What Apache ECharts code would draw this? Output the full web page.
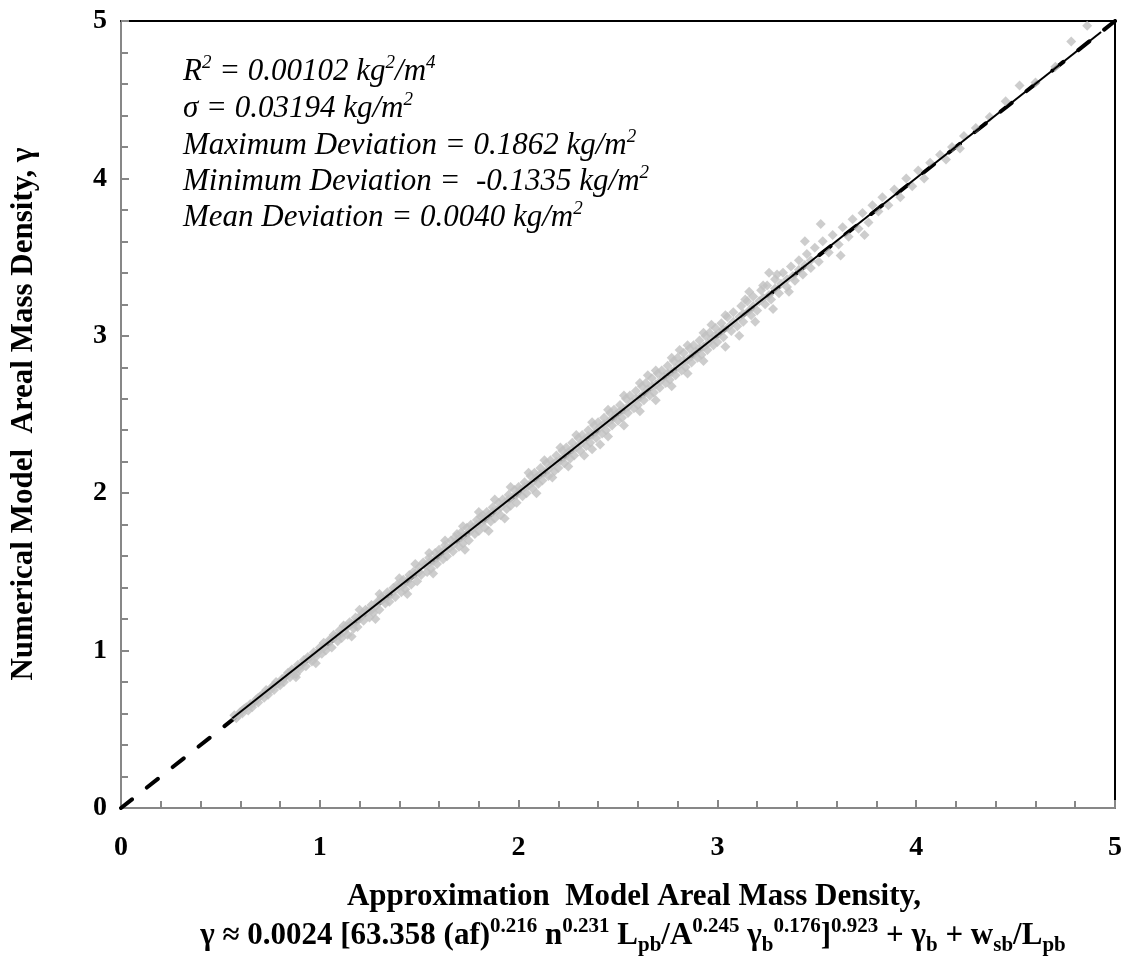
<!DOCTYPE html>
<html>
<head>
<meta charset="utf-8">
<script src="https://cdn.jsdelivr.net/npm/echarts@6/dist/echarts.min.js"></script>
<style>
    html, body { margin: 0; padding: 0; background: #fff; }
    #chart { width: 1130px; height: 957px; }
</style>
</head>
<body>
<div id="chart"></div>
<script>
// approximation model value (x) vs numerical model value (y)
const points = [
    [0.57,0.59],[0.58,0.57],[0.60,0.61],[0.61,0.60],[0.62,0.63],[0.64,0.62],[0.65,0.66],[0.66,0.64],[0.68,0.69],[0.69,0.67],
    [0.70,0.71],[0.72,0.70],[0.73,0.75],[0.74,0.72],[0.76,0.77],[0.77,0.75],[0.78,0.80],[0.80,0.78],[0.81,0.82],[0.82,0.80],
    [0.84,0.86],[0.85,0.83],[0.86,0.88],[0.88,0.85],[0.89,0.91],[0.90,0.88],[0.92,0.94],[0.93,0.90],[0.94,0.96],[0.96,0.93],
    [0.97,0.99],[0.98,0.96],[1.00,1.02],[1.01,0.98],[0.88,0.83],[0.98,0.92],
    [0.59,0.59],[0.63,0.64],[0.67,0.67],[0.71,0.72],[0.75,0.75],[0.79,0.79],[0.83,0.84],[0.87,0.87],[0.91,0.91],[0.95,0.95],[0.99,0.99],
    [0.61,0.62],[0.65,0.65],[0.69,0.70],[0.73,0.73],[0.77,0.78],[0.81,0.81],[0.85,0.86],[0.89,0.89],[0.93,0.94],[0.97,0.97],
    [1.02,1.05],[1.03,1.00],[1.05,1.07],[1.06,1.02],[1.07,1.10],[1.09,1.06],[1.10,1.13],[1.11,1.08],[1.13,1.15],[1.14,1.10],
    [1.15,1.18],[1.17,1.14],[1.18,1.21],[1.19,1.15],[1.21,1.23],[1.22,1.19],[1.23,1.26],[1.25,1.21],[1.26,1.29],[1.27,1.24],
    [1.29,1.31],[1.30,1.26],[1.31,1.34],[1.33,1.30],[1.34,1.37],[1.35,1.31],[1.37,1.40],[1.38,1.34],[1.39,1.42],[1.41,1.37],
    [1.42,1.45],[1.43,1.39],[1.45,1.48],[1.46,1.42],[1.47,1.50],[1.49,1.44],[1.50,1.53],[1.16,1.09],[1.28,1.20],[1.44,1.36],[1.12,1.16],
    [1.04,1.04],[1.08,1.09],[1.12,1.12],[1.16,1.17],[1.20,1.20],[1.24,1.25],[1.28,1.28],[1.32,1.33],[1.36,1.36],[1.40,1.41],
    [1.44,1.44],[1.48,1.49],[1.20,1.26],[1.30,1.36],[1.40,1.46],[1.48,1.55],
    [1.02,1.02],[1.06,1.07],[1.10,1.10],[1.14,1.15],[1.18,1.18],[1.22,1.23],[1.26,1.26],[1.30,1.31],[1.34,1.34],[1.38,1.39],
    [1.42,1.42],[1.46,1.47],[1.50,1.50],
    [1.51,1.48],[1.52,1.56],[1.54,1.50],[1.55,1.59],[1.56,1.52],[1.58,1.62],[1.59,1.55],[1.60,1.64],[1.62,1.58],[1.63,1.67],
    [1.64,1.60],[1.66,1.70],[1.67,1.63],[1.68,1.72],[1.70,1.66],[1.71,1.75],[1.72,1.68],[1.74,1.78],[1.75,1.70],[1.76,1.80],
    [1.78,1.74],[1.79,1.83],[1.80,1.76],[1.82,1.86],[1.83,1.78],[1.84,1.88],[1.86,1.82],[1.87,1.91],[1.88,1.84],[1.90,1.94],
    [1.91,1.86],[1.92,1.96],[1.94,1.90],[1.95,1.99],[1.96,1.92],[1.98,2.02],[1.99,1.94],
    [1.57,1.49],[1.73,1.64],[1.85,1.76],[1.93,1.84],[1.69,1.74],[1.81,1.85],
    [1.53,1.54],[1.57,1.57],[1.61,1.62],[1.65,1.65],[1.69,1.70],[1.73,1.73],[1.77,1.78],[1.81,1.81],[1.85,1.86],[1.89,1.89],
    [1.93,1.94],[1.97,1.97],[1.55,1.62],[1.63,1.70],[1.72,1.79],[1.80,1.88],[1.88,1.96],[1.96,2.04],
    [1.55,1.56],[1.59,1.59],[1.63,1.64],[1.67,1.67],[1.71,1.72],[1.75,1.75],[1.79,1.80],[1.83,1.83],[1.87,1.88],[1.91,1.91],
    [1.95,1.96],[1.99,1.99],
    [2.00,2.04],[2.02,1.98],[2.03,2.07],[2.04,2.00],[2.06,2.11],[2.07,2.03],[2.08,2.13],[2.10,2.06],[2.11,2.16],[2.12,2.08],
    [2.14,2.19],[2.15,2.11],[2.16,2.21],[2.18,2.14],[2.19,2.24],[2.20,2.16],[2.22,2.27],[2.23,2.19],[2.24,2.29],[2.26,2.22],
    [2.27,2.32],[2.28,2.24],[2.30,2.35],[2.31,2.27],[2.32,2.37],[2.34,2.30],[2.35,2.40],[2.36,2.32],[2.38,2.43],[2.39,2.35],
    [2.40,2.45],[2.42,2.38],[2.43,2.48],[2.44,2.40],[2.46,2.51],[2.47,2.43],[2.48,2.53],[2.50,2.46],
    [2.09,2.00],[2.17,2.10],[2.25,2.17],[2.33,2.24],[2.41,2.31],[2.37,2.28],[2.45,2.36],
    [2.01,2.02],[2.05,2.05],[2.09,2.10],[2.13,2.13],[2.17,2.18],[2.21,2.21],[2.25,2.26],[2.29,2.29],[2.33,2.34],[2.37,2.37],
    [2.41,2.42],[2.45,2.45],[2.49,2.50],[2.05,2.13],[2.13,2.21],[2.21,2.29],[2.29,2.37],[2.37,2.45],[2.45,2.53],
    [2.03,2.04],[2.07,2.07],[2.11,2.12],[2.15,2.15],[2.19,2.20],[2.23,2.23],[2.27,2.28],[2.31,2.31],[2.35,2.36],[2.39,2.39],
    [2.43,2.44],[2.47,2.47],
    [2.51,2.56],[2.52,2.48],[2.54,2.60],[2.55,2.51],[2.56,2.62],[2.58,2.54],[2.59,2.65],[2.60,2.56],[2.62,2.68],[2.63,2.59],
    [2.64,2.70],[2.66,2.62],[2.67,2.73],[2.68,2.64],[2.70,2.76],[2.71,2.67],[2.72,2.78],[2.74,2.70],[2.75,2.81],[2.76,2.72],
    [2.78,2.84],[2.79,2.75],[2.80,2.86],[2.82,2.78],[2.83,2.89],[2.84,2.80],[2.86,2.92],[2.87,2.83],[2.88,2.94],[2.90,2.86],
    [2.91,2.97],[2.92,2.88],[2.94,3.00],[2.95,2.91],[2.96,3.02],[2.98,2.94],[2.99,3.05],
    [2.53,2.43],[2.61,2.52],[2.69,2.59],[2.77,2.68],[2.85,2.76],[2.93,2.84],[2.65,2.75],[2.81,2.91],
    [2.53,2.53],[2.57,2.58],[2.61,2.61],[2.65,2.66],[2.69,2.69],[2.73,2.74],[2.77,2.77],[2.81,2.82],[2.85,2.85],[2.89,2.90],
    [2.93,2.93],[2.97,2.98],[2.53,2.62],[2.61,2.70],[2.69,2.78],[2.77,2.86],[2.85,2.94],[2.93,3.02],[2.97,3.07],
    [2.51,2.52],[2.55,2.55],[2.59,2.60],[2.63,2.63],[2.67,2.68],[2.71,2.71],[2.75,2.76],[2.79,2.79],[2.83,2.84],[2.87,2.87],
    [2.91,2.92],[2.95,2.95],[2.99,3.00],
    [3.00,2.96],[3.02,3.08],[3.03,2.99],[3.05,3.12],[3.07,3.03],[3.08,3.15],[3.10,3.06],[3.12,3.19],[3.13,3.09],[3.15,3.22],
    [3.17,3.13],[3.18,3.25],[3.20,3.16],[3.22,3.29],[3.24,3.20],[3.25,3.32],[3.27,3.23],[3.29,3.36],[3.31,3.27],[3.33,3.40],
    [3.35,3.31],[3.37,3.44],[3.39,3.35],[3.41,3.48],[3.43,3.39],[3.45,3.52],[3.47,3.43],[3.49,3.56],
    [3.04,2.93],[3.11,3.00],[3.19,3.09],[3.28,3.17],[3.36,3.28],[3.16,3.28],[3.26,3.40],
    [3.01,3.02],[3.06,3.06],[3.11,3.12],[3.16,3.16],[3.21,3.22],[3.26,3.26],[3.32,3.33],[3.38,3.38],[3.44,3.45],
    [3.04,3.13],[3.14,3.23],[3.23,3.32],[3.30,3.39],
    [3.03,3.04],[3.08,3.09],[3.13,3.14],[3.18,3.19],[3.23,3.24],[3.29,3.30],[3.35,3.36],[3.41,3.42],[3.47,3.48],
    [3.51,3.47],[3.53,3.60],[3.56,3.53],[3.58,3.64],[3.61,3.58],[3.63,3.69],[3.66,3.63],[3.68,3.74],[3.71,3.68],[3.73,3.78],
    [3.76,3.72],[3.78,3.83],[3.81,3.79],[3.83,3.88],[3.86,3.83],[3.89,3.93],[3.92,3.88],[3.95,4.00],[3.98,3.95],[4.01,4.05],
    [4.04,4.00],[4.07,4.10],[3.52,3.71],[3.62,3.51],[3.74,3.64],[3.44,3.60],
    [4.12,4.15],[4.18,4.20],[4.24,4.27],[4.30,4.32],[4.37,4.39],[4.45,4.49],[4.52,4.59],[4.60,4.61],[4.70,4.71],[4.78,4.87],
    [4.86,4.97],[4.15,4.12],[4.22,4.19]
];
// fitted line over the data range
const fitLine = [[0.56, 0.57], [4.93, 4.93]];
// y = x reference line
const parityLine = [[0, 0], [5, 5]];
const axisMin = 0, axisMax = 5, axisStep = 1;

const serif = "'Liberation Serif', 'Times New Roman', serif";

const chart = echarts.init(document.getElementById('chart'));

const italicRich = {
    t: { fontFamily: serif, fontStyle: 'italic', fontSize: 31, lineHeight: 37, color: '#000' },
    sup: { fontFamily: serif, fontStyle: 'italic', fontSize: 19, lineHeight: 20, verticalAlign: 'top', color: '#000' }
};
const boldRich = {
    t: { fontFamily: serif, fontWeight: 'bold', fontSize: 31, lineHeight: 40, color: '#000' },
    sup: { fontFamily: serif, fontWeight: 'bold', fontSize: 21, lineHeight: 22, verticalAlign: 'top', color: '#000' },
    sub: { fontFamily: serif, fontWeight: 'bold', fontSize: 21, lineHeight: 22, verticalAlign: 'bottom', color: '#000' }
};

function noteText(y, text) {
    return {
        type: 'text', x: 183, y: y,
        style: { text: text, rich: italicRich, align: 'left', verticalAlign: 'middle' }
    };
}

const grayLine = { color: '#878787', width: 2 };

option = {
    animation: false,
    backgroundColor: '#fff',
    grid: { left: 121, right: 15, top: 21, bottom: 149 },
    xAxis: [
        {
            type: 'value', min: axisMin, max: axisMax, interval: axisStep,
            axisLine: { onZero: false, lineStyle: grayLine },
            axisTick: { inside: true, length: 8, lineStyle: grayLine },
            minorTick: { show: true, splitNumber: 5, length: 7, lineStyle: grayLine },
            splitLine: { show: false },
            axisLabel: { margin: 26, color: '#000', fontFamily: serif, fontWeight: 'bold', fontSize: 28 }
        },
        {
            type: 'value', min: axisMin, max: axisMax, position: 'top',
            axisLine: { show: true, onZero: false, lineStyle: { color: '#000', width: 2 } },
            axisTick: { show: false }, axisLabel: { show: false }, splitLine: { show: false }
        }
    ],
    yAxis: [
        {
            type: 'value', min: axisMin, max: axisMax, interval: axisStep,
            axisLine: { show: true, onZero: false, lineStyle: grayLine },
            axisTick: { show: true, inside: true, length: 8, lineStyle: grayLine },
            minorTick: { show: true, splitNumber: 5, length: 7, lineStyle: grayLine },
            splitLine: { show: false },
            axisLabel: { margin: 14, color: '#000', fontFamily: serif, fontWeight: 'bold', fontSize: 28 }
        },
        {
            type: 'value', min: axisMin, max: axisMax, position: 'right',
            axisLine: { show: true, onZero: false, lineStyle: { color: '#000', width: 2 } },
            axisTick: { show: false }, axisLabel: { show: false }, splitLine: { show: false }
        }
    ],
    series: [
        {
            // y = x, drawn under the data so it only shows where points are sparse
            type: 'line',
            data: parityLine,
            showSymbol: false,
            lineStyle: { color: '#000', width: 4, type: [14, 19], cap: 'round' },
            silent: true,
            z: 1
        },
        {
            type: 'scatter',
            data: points,
            symbol: 'diamond',
            symbolSize: 10,
            itemStyle: { color: '#c0c0c0' },
            silent: true,
            z: 2
        },
        {
            type: 'line',
            data: fitLine,
            showSymbol: false,
            lineStyle: { color: '#000', width: 2 },
            silent: true,
            z: 3
        }
    ],
    graphic: [
        noteText(72, '{t|R}{sup|2}{t| = 0.00102 kg}{sup|2}{t|/m}{sup|4}'),
        noteText(109, '{t|σ = 0.03194 kg/m}{sup|2}'),
        noteText(146, '{t|Maximum Deviation = 0.1862 kg/m}{sup|2}'),
        noteText(182, '{t|Minimum Deviation =  -0.1335 kg/m}{sup|2}'),
        noteText(218, '{t|Mean Deviation = 0.0040 kg/m}{sup|2}'),
        {
            type: 'text', x: 634, y: 897,
            style: {
                text: '{t|Approximation  Model Areal Mass Density,}',
                rich: boldRich, align: 'center', verticalAlign: 'middle'
            }
        },
        {
            type: 'text', x: 633, y: 936,
            style: {
                text: '{t|γ ≈ 0.0024 [63.358 (af)}{sup|0.216}{t| n}{sup|0.231}{t| L}{sub|pb}{t|/A}{sup|0.245}{t| γ}{sub|b}{sup|0.176}{t|]}{sup|0.923}{t| + γ}{sub|b}{t| + w}{sub|sb}{t|/L}{sub|pb}',
                rich: boldRich, align: 'center', verticalAlign: 'middle'
            }
        },
        {
            type: 'text', x: 24, y: 414,
            rotation: Math.PI / 2,
            style: {
                text: 'Numerical Model  Areal Mass Density, γ',
                fontFamily: serif, fontWeight: 'bold', fontSize: 31, fill: '#000',
                align: 'center', verticalAlign: 'middle'
            }
        }
    ]
};

chart.setOption(option);
</script>
</body>
</html>
